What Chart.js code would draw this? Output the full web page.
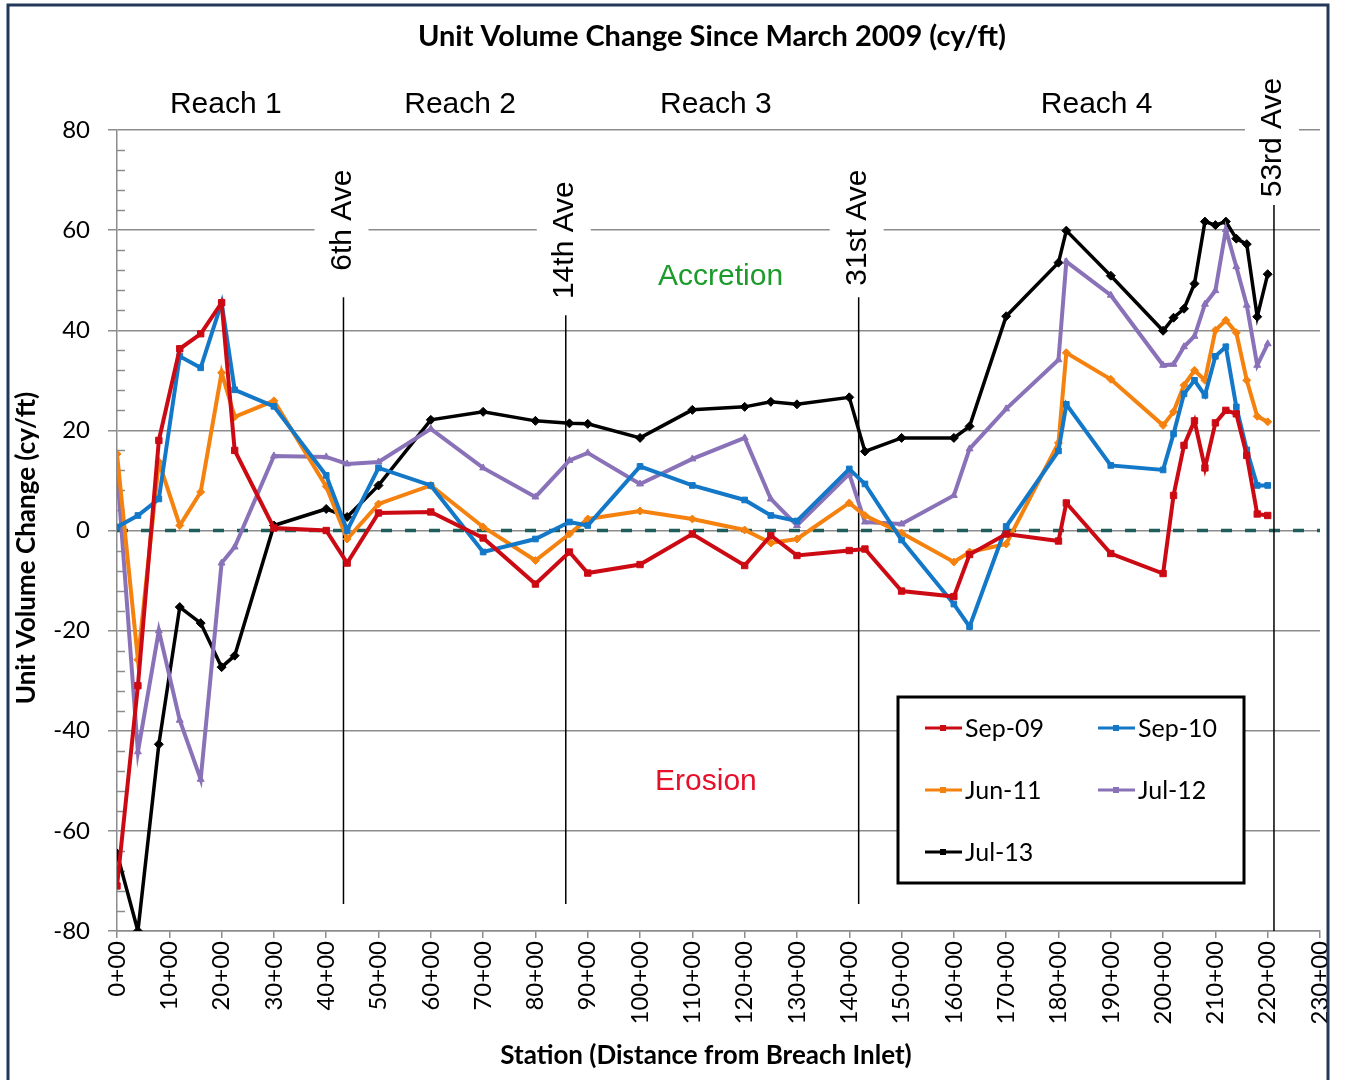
<!DOCTYPE html>
<html>
<head>
<meta charset="utf-8">
<script src="https://cdn.jsdelivr.net/npm/chart.js@4.4.1/dist/chart.umd.min.js"></script>
<style>
  html, body { margin: 0; padding: 0; background: #fff; }
  #chart { display: block; }
</style>
</head>
<body>
<canvas id="chart" width="1354" height="1080"></canvas>
<script>
// station (x 100 ft) of each survey profile
const stations = [0, 4, 8, 12, 16, 20, 22.5, 30, 40, 44, 50, 60, 70, 80, 86.5, 90, 100, 110, 120, 125, 130, 140, 143, 150, 160, 163, 170, 180, 181.5, 190, 200, 202, 204, 206, 208, 210, 212, 214, 216, 218, 220];

// unit volume change (cy/ft) for each survey
const sep09 = [-71, -31, 18, 36.3, 39.3, 45.5, 16, 0.5, 0, -6.5, 3.5, 3.7, -1.5, -10.7, -4.3, -8.5, -6.8, -0.7, -7, -1, -5, -4, -3.7, -12.1, -13.2, -4.8, -0.7, -2.1, 5.5, -4.6, -8.6, 7, 17, 21.9, 12.5, 21.5, 24, 23.3, 15, 3.3, 3];
const sep10 = [0.7, 3, 6.3, 34.8, 32.5, 45.5, 28.1, 24.8, 11, 0, 12.5, 9, -4.3, -1.7, 1.7, 1, 12.8, 9, 6.1, 3, 1.9, 12.3, 9.3, -1.9, -14.7, -19.2, 0.8, 15.9, 25.2, 13, 12.1, 19.3, 27.3, 30, 27, 34.8, 36.7, 24.7, 16.1, 9, 9];
const jun11 = [15.3, -25.8, 13.7, 1, 7.7, 31.5, 22.7, 25.9, 8.8, -1.7, 5.3, 9, 0.7, -6, -0.7, 2.3, 3.9, 2.3, 0.1, -2.5, -1.7, 5.5, 3, -0.5, -6.3, -4.3, -2.7, 17.5, 35.5, 30.2, 21, 23.7, 29, 32, 30, 40, 42, 39.5, 30, 22.8, 21.7];
const jul12 = [12.3, -44.2, -20, -37.9, -49.7, -6.5, -3.3, 14.9, 14.7, 13.3, 13.7, 20.3, 12.5, 6.7, 14, 15.5, 9.3, 14.3, 18.5, 6.3, 1, 11.3, 1.7, 1.3, 7, 16.3, 24.3, 34.1, 53.7, 47, 33, 33.2, 36.7, 38.8, 45.2, 47.9, 60.1, 52.7, 45, 33, 37.3];
const jul13 = [-64.5, -80, -42.7, -15.3, -18.5, -27.3, -25, 1, 4.3, 2.7, 9, 22.1, 23.7, 21.9, 21.4, 21.3, 18.5, 24.1, 24.7, 25.7, 25.2, 26.6, 15.8, 18.5, 18.5, 20.8, 42.8, 53.5, 59.9, 50.9, 39.9, 42.5, 44.3, 49.3, 61.7, 61, 61.7, 58.3, 57.2, 42.7, 51.2];

const seriesNames = ['Sep-09', 'Sep-10', 'Jun-11', 'Jul-12', 'Jul-13'];

// street markers along the beach
const streetNames = ['6th Ave', '14th Ave', '31st Ave', '53rd Ave'];
const streetStations = [43.3, 85.8, 141.8, 221.2];

const reachNames = ['Reach 1', 'Reach 2', 'Reach 3', 'Reach 4'];
const reachStations = [20.8, 65.6, 114.5, 187.3];

function pts(vals) {
  return stations.map((s, i) => ({ x: s, y: vals[i] }));
}

function makeSet(label, vals, color, style, radius, width) {
  return {
    label: label,
    data: pts(vals),
    borderColor: color,
    backgroundColor: color,
    borderWidth: width,
    pointStyle: style,
    pointRadius: radius,
    pointBorderWidth: 1,
    tension: 0
  };
}

const datasets = [
  makeSet(seriesNames[0], sep09, '#cc0a14', 'rect', 4.5, 4),
  makeSet(seriesNames[1], sep10, '#1478c8', 'rect', 4, 4),
  makeSet(seriesNames[2], jun11, '#f5820f', 'rectRot', 4, 4),
  makeSet(seriesNames[3], jul12, '#8a72b8', 'triangle', 4, 4),
  makeSet(seriesNames[4], jul13, '#000000', 'rectRot', 4.5, 3.5)
];

// extra drawing: minor ticks, zero line, street lines, texts, legend
const extras = {
  id: 'extras',
  beforeDatasetsDraw(chart) {
    const ctx = chart.ctx;
    const a = chart.chartArea;
    const x = chart.scales.x;
    const y = chart.scales.y;
    ctx.save();

    // minor ticks on y axis
    ctx.strokeStyle = '#8c8c8c';
    ctx.lineWidth = 1.5;
    for (let v = -80; v <= 80; v += 4) {
      if (v % 20 === 0) continue;
      const py = Math.round(y.getPixelForValue(v)) + 0.5;
      ctx.beginPath();
      ctx.moveTo(a.left, py);
      ctx.lineTo(a.left + 8, py);
      ctx.stroke();
    }

    // dashed zero line
    ctx.setLineDash([11, 13]);
    ctx.strokeStyle = '#1f5e5a';
    ctx.lineWidth = 3.5;
    const zy = y.getPixelForValue(0);
    ctx.beginPath();
    ctx.moveTo(a.left, zy);
    ctx.lineTo(a.right, zy);
    ctx.stroke();
    ctx.setLineDash([]);

    // street lines and labels
    const tops = [46.6, 43, 46.6, 65];
    const bottoms = [-74.6, -74.6, -74.6, -80];
    const labelY = [62, 58, 60.5, 78.5];
    ctx.strokeStyle = '#000';
    ctx.lineWidth = 1.5;
    ctx.font = '30px "Liberation Sans", Arial, sans-serif';
    ctx.textAlign = 'center';
    ctx.textBaseline = 'middle';
    streetNames.forEach((name, i) => {
      const px = x.getPixelForValue(streetStations[i]);
      ctx.beginPath();
      ctx.moveTo(px, y.getPixelForValue(tops[i]));
      ctx.lineTo(px, y.getPixelForValue(bottoms[i]));
      ctx.stroke();

      const w = ctx.measureText(name).width;
      ctx.save();
      ctx.translate(px - 2, y.getPixelForValue(labelY[i]));
      ctx.rotate(-Math.PI / 2);
      ctx.fillStyle = '#fff';
      ctx.fillRect(-w / 2 - 6, -27, w + 12, 54);
      ctx.fillStyle = '#000';
      ctx.fillText(name, 0, 1);
      ctx.restore();
    });
    ctx.restore();
  },
  afterDraw(chart) {
    const ctx = chart.ctx;
    const x = chart.scales.x;
    const y = chart.scales.y;
    ctx.save();
    ctx.textAlign = 'center';
    ctx.textBaseline = 'middle';

    // title
    ctx.fillStyle = '#000';
    ctx.font = 'bold 29px Lato, sans-serif';
    ctx.fillText('Unit Volume Change Since March 2009 (cy/ft)', 712, 37);

    // axis titles
    ctx.font = 'bold 26px Lato, sans-serif';
    ctx.fillText('Station (Distance from Breach Inlet)', 706, 1056);
    ctx.save();
    ctx.translate(27, 548);
    ctx.rotate(-Math.PI / 2);
    ctx.fillText('Unit Volume Change (cy/ft)', 0, 0);
    ctx.restore();

    // reach labels
    ctx.font = '30px "Liberation Sans", Arial, sans-serif';
    reachNames.forEach((name, i) => {
      ctx.fillText(name, x.getPixelForValue(reachStations[i]), y.getPixelForValue(85));
    });

    ctx.fillStyle = '#1c9a2a';
    ctx.fillText('Accretion', x.getPixelForValue(115.4), y.getPixelForValue(50.6));
    ctx.fillStyle = '#e6102a';
    ctx.fillText('Erosion', x.getPixelForValue(112.6), y.getPixelForValue(-50.2));

    // legend
    ctx.fillStyle = '#fff';
    ctx.fillRect(898, 697, 346, 186);
    ctx.strokeStyle = '#000';
    ctx.lineWidth = 3;
    ctx.strokeRect(898, 697, 346, 186);
    ctx.textAlign = 'left';
    ctx.font = '25px Lato, sans-serif';
    chart.data.datasets.forEach((ds, i) => {
      const lx = 925 + (i % 2) * 173;
      const ly = 728 + Math.floor(i / 2) * 62;
      ctx.strokeStyle = ds.borderColor;
      ctx.lineWidth = 3;
      ctx.beginPath();
      ctx.moveTo(lx, ly);
      ctx.lineTo(lx + 37, ly);
      ctx.stroke();
      ctx.fillStyle = ds.borderColor;
      ctx.fillRect(lx + 15, ly - 3, 6, 6);
      ctx.fillStyle = '#000';
      ctx.fillText(ds.label, lx + 40, ly + 1);
    });

    // frame round the picture
    ctx.strokeStyle = '#22385a';
    ctx.lineWidth = 3;
    ctx.strokeRect(8, 5, 1320, 1100);
    ctx.restore();
  }
};

new Chart(document.getElementById('chart'), {
  type: 'line',
  data: { datasets: datasets },
  options: {
    responsive: false,
    animation: false,
    devicePixelRatio: 1,
    layout: { padding: { left: 0, right: 34, top: 130, bottom: 0 } },
    plugins: {
      legend: { display: false },
      title: { display: false },
      tooltip: { enabled: false }
    },
    scales: {
      x: {
        type: 'linear',
        min: 0,
        max: 230,
        afterFit: (s) => { s.height = 149; },
        grid: { drawOnChartArea: false, drawTicks: true, tickLength: 7, color: '#8c8c8c', lineWidth: 1.5 },
        border: { color: '#8c8c8c', width: 1.5 },
        ticks: {
          stepSize: 10,
          autoSkip: false,
          minRotation: 90,
          maxRotation: 90,
          padding: 3,
          color: '#000',
          font: { family: 'Lato', size: 24 },
          callback: (v) => v + '+00'
        }
      },
      y: {
        min: -80,
        max: 80,
        afterFit: (s) => { s.width = 117; },
        grid: { color: '#8c8c8c', lineWidth: 1.5, tickLength: 9 },
        border: { color: '#8c8c8c', width: 1.5 },
        ticks: {
          stepSize: 20,
          padding: 18,
          color: '#000',
          font: { family: 'Lato', size: 24 }
        }
      }
    }
  },
  plugins: [extras]
});
</script>
</body>
</html>
